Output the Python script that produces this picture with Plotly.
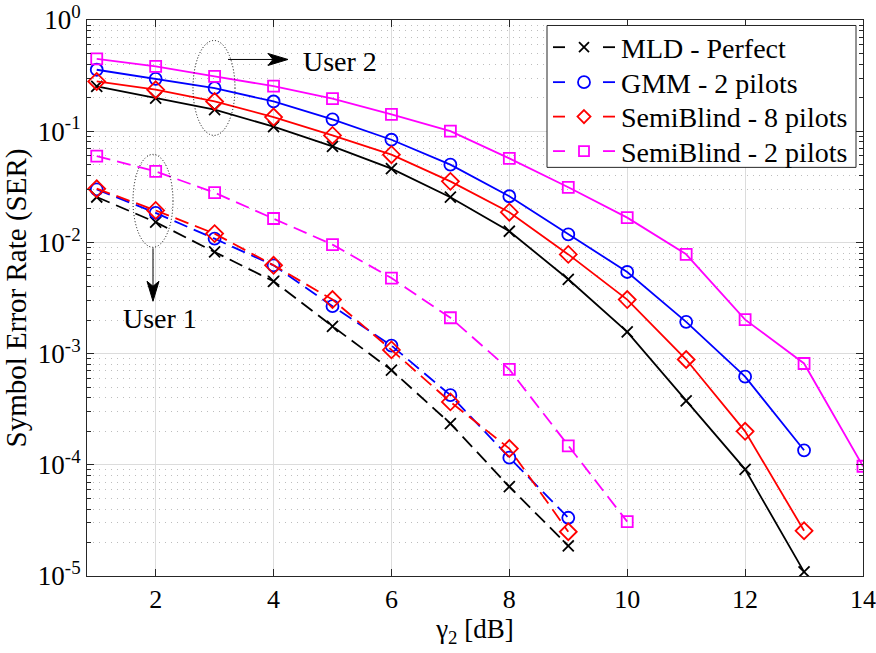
import plotly.graph_objects as go

# ---------------- data ----------------
snr_u2 = [1, 2, 3, 4, 5, 6, 7, 8, 9, 10, 11, 12, 13]
snr_u2_sb2 = [1, 2, 3, 4, 5, 6, 7, 8, 9, 10, 11, 12, 13, 14]
snr_u1 = [1, 2, 3, 4, 5, 6, 7, 8, 9]
snr_u1_sb2 = [1, 2, 3, 4, 5, 6, 7, 8, 9, 10]

# User 2 (solid)
mld_u2 = [0.253, 0.198, 0.156, 0.110, 0.073, 0.046, 0.0255, 0.0126, 0.00466,
          0.00157, 3.76e-4, 9.1e-5, 1.09e-5]
gmm_u2 = [0.357, 0.296, 0.244, 0.185, 0.128, 0.0838, 0.050, 0.026, 0.0118,
          0.00542, 0.00193, 6.2e-4, 1.35e-4]
sb8_u2 = [0.280, 0.236, 0.185, 0.134, 0.0917, 0.0615, 0.0354, 0.0187, 0.0078,
          0.00306, 8.85e-4, 2.0e-4, 2.55e-5]
sb2_u2 = [0.448, 0.382, 0.311, 0.254, 0.196, 0.1416, 0.100, 0.057, 0.0313,
          0.0167, 0.00782, 0.00202, 8.15e-4, 9.7e-5]

# User 1 (dashed)
mld_u1 = [0.0256, 0.0152, 0.0082, 0.00447, 0.00176, 7.1e-4, 2.35e-4, 6.35e-5, 1.87e-5]
gmm_u1 = [0.0300, 0.0184, 0.0108, 0.00622, 0.00267, 0.00118, 4.23e-4, 1.16e-4, 3.34e-5]
sb8_u1 = [0.0304, 0.0194, 0.0120, 0.00622, 0.00306, 0.00108, 3.68e-4, 1.40e-4, 2.5e-5]
sb2_u1 = [0.0597, 0.0435, 0.028, 0.0164, 0.00955, 0.00478, 0.0021, 7.2e-4, 1.48e-4, 3.08e-5]

names = ["MLD - Perfect", "GMM - 2 pilots", "SemiBlind - 8 pilots", "SemiBlind - 2 pilots"]
colors = ["#000000", "#0000FF", "#FF0000", "#FF00FF"]
symbols = ["x-thin-open", "circle-open", "diamond-open", "square-open"]
msizes = [11, 12, 13, 11]

x_ticks = [2, 4, 6, 8, 10, 12, 14]
y_ticks = [1e-5, 1e-4, 1e-3, 1e-2, 1e-1, 1e0]
y_ticktext = ["10<sup>-5</sup>", "10<sup>-4</sup>", "10<sup>-3</sup>",
              "10<sup>-2</sup>", "10<sup>-1</sup>", "10<sup>0</sup>"]

FONT = "Liberation Serif, Times New Roman, serif"

fig = go.Figure()

solid_sets = [(snr_u2, mld_u2), (snr_u2, gmm_u2), (snr_u2, sb8_u2), (snr_u2_sb2, sb2_u2)]
dashed_sets = [(snr_u1, mld_u1), (snr_u1, gmm_u1), (snr_u1, sb8_u1), (snr_u1_sb2, sb2_u1)]

for i, (xs, ys) in enumerate(solid_sets):
    fig.add_trace(go.Scatter(
        x=xs, y=ys, mode="lines+markers", name=names[i] + " (User 2)", showlegend=False,
        line=dict(color=colors[i], width=1.8),
        marker=dict(symbol=symbols[i], size=msizes[i],
                    line=dict(color=colors[i], width=1.8)),
    ))

for i, (xs, ys) in enumerate(dashed_sets):
    fig.add_trace(go.Scatter(
        x=xs, y=ys, mode="lines+markers", name=names[i] + " (User 1)", showlegend=False,
        line=dict(color=colors[i], width=1.8, dash="14px,7px"),
        marker=dict(symbol=symbols[i], size=msizes[i],
                    line=dict(color=colors[i], width=1.8)),
    ))

# ---------------- decorations in plot-pixel space ----------------
L, R, T, B = 87, 863, 19.5, 576


def px(xp):
    return (xp - L) / (R - L)


def py(yp):
    return (B - yp) / (B - T)


def seg(x0, y0, x1, y1, color="#000000", width=1, dash=None):
    line = dict(color=color, width=width)
    if dash:
        line["dash"] = dash
    return dict(type="line", xref="paper", yref="paper",
                x0=px(x0), y0=py(y0), x1=px(x1), y1=py(y1), line=line)


def poly(pts, color, fill="rgba(0,0,0,0)", width=1.8):
    path = "M " + " L ".join(f"{px(a):.5f},{py(b):.5f}" for a, b in pts) + " Z"
    return dict(type="path", xref="paper", yref="paper", path=path,
                fillcolor=fill, line=dict(color=color, width=width))


shapes = []
# dotted ellipses grouping the curves of each user
for (x0, x1, y0, y1) in [(193, 235, 40, 135), (133, 173, 154, 247)]:
    shapes.append(dict(type="circle", xref="paper", yref="paper",
                       x0=px(x0), x1=px(x1), y0=py(y1), y1=py(y0),
                       line=dict(color="#000000", width=1, dash="1px,2px")))


def arrow(xa, ya, xb, yb, head_len=20, head_w=6, notch=5):
    """Line from (xa,ya) to tip (xb,yb) with a concave filled head."""
    dx, dy = xb - xa, yb - ya
    n = (dx * dx + dy * dy) ** 0.5
    ux, uy = dx / n, dy / n
    vx, vy = -uy, ux
    bx, by = xb - ux * head_len, yb - uy * head_len
    nx, ny = bx + ux * notch, by + uy * notch
    shapes.append(seg(xa, ya, nx, ny))
    pts = [(xb, yb), (bx + vx * head_w, by + vy * head_w), (nx, ny),
           (bx - vx * head_w, by - vy * head_w)]
    shapes.append(poly(pts, "#000000", fill="#000000", width=1))


arrow(228, 59, 288, 59)
arrow(153, 248, 153, 301)

annotations = [
    dict(text="User 2", xref="paper", yref="paper", x=px(340), y=py(61),
         xanchor="center", yanchor="middle", showarrow=False,
         font=dict(family=FONT, size=28, color="#000000")),
    dict(text="User 1", xref="paper", yref="paper", x=px(160), y=py(318),
         xanchor="center", yanchor="middle", showarrow=False,
         font=dict(family=FONT, size=28, color="#000000")),
]

# ---------------- legend box ----------------
LEG_X0, LEG_X1, LEG_Y0, LEG_Y1 = 547, 856, 25, 167
row_y = [46.7, 81.7, 116.2, 150.7]
shapes.append(dict(type="rect", xref="paper", yref="paper",
                   x0=px(LEG_X0), x1=px(LEG_X1), y0=py(LEG_Y1), y1=py(LEG_Y0),
                   fillcolor="white", line=dict(color="#262626", width=1)))
mx = 584
for i, yy in enumerate(row_y):
    c = colors[i]
    shapes.append(seg(553, yy, 565, yy, c, 1.8))
    shapes.append(seg(603, yy, 615, yy, c, 1.8))
    if i == 0:
        r = 5
        shapes.append(seg(mx - r, yy - r, mx + r, yy + r, c, 1.8))
        shapes.append(seg(mx - r, yy + r, mx + r, yy - r, c, 1.8))
    elif i == 1:
        r = 6
        shapes.append(dict(type="circle", xref="paper", yref="paper",
                           x0=px(mx - r), x1=px(mx + r), y0=py(yy + r), y1=py(yy - r),
                           line=dict(color=c, width=1.8)))
    elif i == 2:
        r = 6.5
        shapes.append(poly([(mx, yy - r), (mx + r, yy), (mx, yy + r), (mx - r, yy)], c))
    else:
        r = 5
        shapes.append(poly([(mx - r, yy - r), (mx + r, yy - r), (mx + r, yy + r),
                            (mx - r, yy + r)], c))
    annotations.append(dict(text=names[i], xref="paper", yref="paper",
                            x=px(619), y=py(yy + 1), xanchor="left", yanchor="middle",
                            showarrow=False,
                            font=dict(family=FONT, size=28, color="#000000")))

minor_vals = [m * 10.0 ** e for e in range(-5, 0) for m in range(2, 10)]

fig.update_layout(
    width=876, height=653,
    margin=dict(l=L, r=876 - R, t=T, b=653 - B, autoexpand=False),
    paper_bgcolor="white", plot_bgcolor="white",
    font=dict(family=FONT, color="#000000"),
    shapes=shapes,
    annotations=annotations,
    showlegend=False,
    xaxis=dict(
        range=[0.835, 14], tickmode="array", tickvals=x_ticks,
        ticks="inside", ticklen=7, tickcolor="#262626", automargin=False,
        showline=True, linecolor="#262626", linewidth=1, mirror="ticks",
        showgrid=True, gridcolor="#DCDCDC", gridwidth=1, zeroline=False,
        tickfont=dict(family=FONT, size=26, color="#000000"),
        title=dict(text="γ<sub>2</sub> [dB]", standoff=2,
                   font=dict(family=FONT, size=27, color="#000000")),
    ),
    yaxis=dict(
        type="log", range=[-5, 0], tickmode="array", tickvals=y_ticks,
        ticktext=y_ticktext, automargin=False,
        ticks="inside", ticklen=7, tickcolor="#262626",
        showline=True, linecolor="#262626", linewidth=1, mirror="ticks",
        showgrid=True, gridcolor="#DCDCDC", gridwidth=1, zeroline=False,
        tickfont=dict(family=FONT, size=27, color="#000000"),
        minor=dict(tickmode="array", tickvals=minor_vals, ticks="inside",
                   ticklen=4, tickcolor="#262626", showgrid=True,
                   gridcolor="#BDBDBD", gridwidth=1, griddash="1px,5px"),
        title=dict(text="Symbol Error Rate (SER)", standoff=4,
                   font=dict(family=FONT, size=29, color="#000000")),
    ),
)

fig.write_html("out.html")
